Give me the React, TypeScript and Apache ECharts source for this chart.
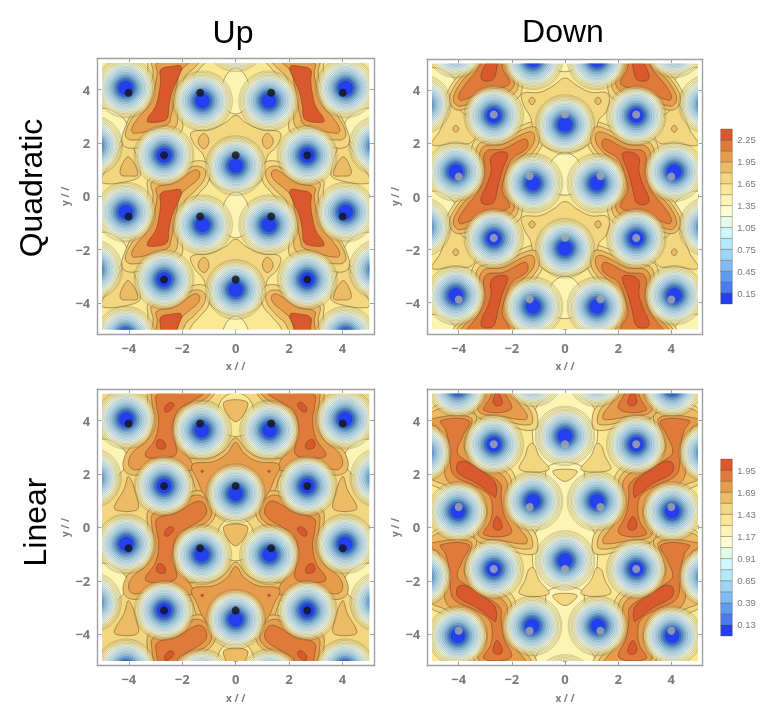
import React, { useEffect, useRef } from "react";
import * as echarts from "echarts";

type Pt = [number, number];
type Shape = { band: number; pts: Pt[] };

const bandColors = ["#2340ef","#4a7cf0","#5f9cf0","#80bcf4","#9cd6fa","#b2e9fb","#cdf8fd","#e3fbe8","#fdfdd5","#fdf4b3","#fae895","#f3d680","#ecbb65","#e79c4c","#df7a3a","#d9582c"];
const ringRadii = [1.12,1.07,1.01,0.96,0.91,0.86,0.81,0.76,0.71,0.65,0.59,0.53,0.47,0.41,0.35,0.27];
const ringFills = ["rgba(253,244,179,0.14)","rgba(253,246,185,0.36)","rgba(253,248,195,0.62)","rgba(252,250,205,0.82)","rgba(248,250,218,0.93)","#f1f8e2","#e6f4e8","#d9eeec","#cce5ec","#bbdbe8","#a9d0e2","#93bfdc","#78aad4","#5a8fc8","#3f6cc4","#2340ef"];

const quadLevels = [0,0.15,0.3,0.45,0.6,0.75,0.9,1.05,1.2,1.35,1.5,1.65,1.8,1.95,2.1,2.25,2.4];
const quadLabels = [0.15,0.45,0.75,1.05,1.35,1.65,1.95,2.25];
const linLevels = [0,0.13,0.26,0.39,0.52,0.65,0.78,0.91,1.04,1.17,1.3,1.43,1.56,1.69,1.82,1.95,2.08];
const linLabels = [0.13,0.39,0.65,0.91,1.17,1.43,1.69,1.95];
const majorTicks = [-4,-2,0,2,4];
const minorTicks = [-5,-4.5,-3.5,-3,-2.5,-1.5,-1,-0.5,0.5,1,1.5,2.5,3,3.5,4.5,5];

// ---- Up / Quadratic
const uqWellsSide: Pt[] = [[-4.12,4.07],[-1.24,3.58],[-2.68,1.54],[-4.12,-0.59],[-1.24,-1.07],[-2.68,-3.12],[-4.12,-5.25],[-5.36,1.9],[-5.36,-2.75]];
const uqWellsCenter: Pt[] = [[0,1.15],[0,-3.5],[0,5.8]];
const uqDotsSide: Pt[] = [[-4.01,3.89],[-1.33,3.89],[-2.68,1.54],[-4.01,-0.76],[-1.33,-0.76],[-2.68,-3.12]];
const uqDotsCenter: Pt[] = [[0,1.54],[0,-3.12]];
const uqOffsets = [4.65,0,-4.65];
const uqSide: Shape[] = [
  { band: 9, pts: [[-5.06,-1.41],[-4.44,-1.53],[-4.06,-2.04],[-4.38,-2.67],[-5.06,-2.79]] },
  { band: 11, pts: [[-4.06,-2.54],[-3.56,-3.79],[-3.88,-4.05],[-4.94,-4.17],[-5,-3.92],[-4.56,-3.29]] },
  { band: 11, pts: [[-3.25,0.63],[-2.31,0.79],[-1.63,1.29],[-1.06,1.23],[-1,0.6],[-1.38,0.1],[-1.69,-0.28],[-1.88,-0.9],[-2,-1.66],[-2,-2.16],[-2.25,-2.35],[-2.81,-2.6],[-3.88,-2.85],[-4.25,-2.66],[-4.13,-2.04],[-3.69,-1.16],[-3.44,-0.53],[-3.29,0.1]] },
  { band: 12, pts: [[-3.13,0.54],[-2.31,0.67],[-1.63,1.11],[-1.19,1.04],[-1.16,0.67],[-1.56,0.16],[-1.88,-0.15],[-2.06,-0.78],[-2.16,-1.53],[-2.25,-2.04],[-2.81,-2.35],[-3.88,-2.54],[-4.13,-2.35],[-3.88,-1.72],[-3.5,-1.22],[-3.25,-0.65],[-3.09,-0.03]] },
  { band: 12, pts: [[-1.19,-2.29],[-1,-2.54],[-1.13,-2.85],[-1.31,-2.79],[-1.4,-2.54]] },
  { band: 12, pts: [[-4,-3.17],[-3.66,-3.83],[-4,-3.89],[-4.31,-3.83],[-4.25,-3.45]] },
  { band: 13, pts: [[-2.96,0.33],[-2.31,0.5],[-1.56,0.98],[-1.36,0.93],[-1.39,0.67],[-1.75,0.35],[-2.06,0.04],[-2.21,-0.53],[-2.34,-1.28],[-2.44,-1.72],[-2.5,-1.91],[-2.94,-2.1],[-3.79,-2.29],[-3.9,-2.14],[-3.66,-1.72],[-3.29,-1.28],[-3.06,-0.65],[-2.94,-0.03]] },
  { band: 15, pts: [[-2.81,0.1],[-2.44,0.22],[-2.04,0.22],[-2.16,-0.22],[-2.38,-0.72],[-2.5,-1.28],[-2.56,-1.72],[-2.81,-1.85],[-3.29,-1.86],[-3.29,-1.72],[-3,-1.28],[-2.86,-0.72],[-2.81,-0.28]] },
];
const uqCenter: Shape[] = [
  { band: 9, pts: [[0,0.16],[0.44,-0.28],[0.5,-1.16],[0,-1.56],[-0.5,-1.16],[-0.44,-0.28]] },
  { band: 8, pts: [[0,-0.4],[0.2,-0.78],[0,-1.09],[-0.2,-0.78]] },
  { band: 11, pts: [[-1.66,-2.26],[-0.94,-2.14],[-0.375,-1.88],[0,-1.61],[0.375,-1.88],[0.94,-2.14],[1.66,-2.26],[1.55,-2.76],[1.19,-3.14],[1.06,-3.89],[0.44,-4.4],[-0.44,-4.4],[-1.06,-3.89],[-1.19,-3.14],[-1.55,-2.7]] },
];

// ---- Down / Quadratic
const dqWellsSide: Pt[] = [[-4.11,0.94],[-1.2,0.5],[-2.68,3.05],[-2.68,-1.58],[-4.11,-3.72],[-1.2,-4.15],[-1.2,5.15],[-4.11,5.6],[-5.4,3.47],[-5.4,-1.15]];
const dqWellsCenter: Pt[] = [[0,2.71],[0,-1.95]];
const dqDotsSide: Pt[] = [[-4,0.75],[-1.33,0.77],[-2.68,3.09],[-2.68,-1.56],[-4,-3.88],[-1.33,-3.87]];
const dqDotsCenter: Pt[] = [[0,3.09],[0,-1.56]];
const dqOffsets = [4.65,0,-4.65];
const dqSide: Shape[] = [
  { band: 9, pts: [[-5.06,0.14],[-4.44,0.02],[-4.06,-0.49],[-4.38,-1.12],[-5.06,-1.24]] },
  { band: 11, pts: [[-5,1.95],[-4.2,2],[-3.5,2.05],[-3.35,2.7],[-3.9,3.2],[-4.2,3.55],[-4.5,3],[-4.7,2.5]] },
  { band: 11, pts: [[-3.4,2.1],[-2.3,2.3],[-1.7,2.65],[-1,2.78],[-0.82,2.1],[-1.1,1.55],[-1.5,1.1],[-1.75,0.75],[-1.85,0.25],[-1.6,-0.45],[-1.85,-1],[-2.8,-1.15],[-4.05,-1.6],[-4.5,-1.1],[-4.25,-0.4],[-3.75,0.2],[-3.5,0.85]] },
  { band: 12, pts: [[-3.25,1.97],[-2.3,2.12],[-1.65,2.5],[-1.1,2.6],[-0.97,2.1],[-1.25,1.6],[-1.65,1.2],[-1.9,0.8],[-2,0.25],[-1.75,-0.4],[-2,-0.85],[-2.85,-1],[-4,-1.4],[-4.35,-1.05],[-4.1,-0.4],[-3.6,0.2],[-3.35,0.85]] },
  { band: 12, pts: [[-1.24,3.74],[-1.12,3.6],[-1.24,3.46],[-1.36,3.6]] },
  { band: 12, pts: [[-4.11,2.68],[-4,2.55],[-4.11,2.42],[-4.22,2.55]] },
  { band: 13, pts: [[-3.12,1.83],[-2.3,1.98],[-1.6,2.35],[-1.22,2.42],[-1.15,2.1],[-1.4,1.7],[-1.8,1.35],[-2.05,0.85],[-2.15,0.25],[-1.9,-0.35],[-2.15,-0.72],[-2.9,-0.85],[-3.95,-1.25],[-4.2,-1],[-3.95,-0.4],[-3.45,0.2],[-3.22,0.85]] },
  { band: 14, pts: [[-2.99,1.67],[-2.3,1.8],[-1.55,2.17],[-1.4,2.09],[-1.45,1.8],[-1.99,1.42],[-2.24,0.85],[-2.36,0.23],[-2.08,-0.35],[-2.3,-0.53],[-2.93,-0.65],[-3.9,-1.03],[-4.01,-0.88],[-3.74,-0.41],[-3.24,0.23],[-3.05,0.85]] },
  { band: 15, pts: [[-2.8,1.42],[-2.61,1.63],[-2.24,1.67],[-2.15,1.55],[-2.36,0.98],[-2.53,0.34],[-2.65,-0.16],[-2.8,-0.29],[-3.11,-0.26],[-3.15,-0.04],[-2.93,0.46],[-2.78,0.98]] },
];
const dqCenter: Shape[] = [
  { band: 9, pts: [[0,1.65],[0.55,1.25],[0.55,0.35],[0,0.05],[-0.55,0.35],[-0.55,1.25]] },
  { band: 8, pts: [[0,0.95],[0.3,0.75],[0,0.35],[-0.3,0.75]] },
  { band: 11, pts: [[-1.61,3.87],[-0.93,3.93],[-0.43,4.18],[0,4.46],[0.45,4.18],[0.95,3.93],[1.61,3.87],[1.58,3.24],[1.26,2.86],[1.14,2.24],[0.45,1.73],[-0.45,1.73],[-1.11,2.24],[-1.3,2.99],[-1.55,3.43]] },
];

// ---- Up / Linear
const ulWellsSide: Pt[] = [[-4.1,4.05],[-1.27,3.64],[-2.68,1.55],[-4.1,-0.62],[-1.27,-1.02],[-2.68,-3.11],[-4.1,-5.3],[-1.27,-5.67],[-5.4,1.85],[-5.4,-2.8]];
const ulWellsCenter: Pt[] = [[0,1.26],[0,-3.44]];
const ulDotsSide: Pt[] = [[-4.01,3.89],[-1.33,3.89],[-2.68,1.55],[-4.01,-0.78],[-1.33,-0.78],[-2.68,-3.11]];
const ulDotsCenter: Pt[] = [[0,1.55],[0,-3.11]];
const ulOffsets = [4.65,0,-4.65];
const ulSide: Shape[] = [
  { band: 9, pts: [[-5.06,-1.41],[-4.44,-1.53],[-4.06,-2.04],[-4.38,-2.67],[-5.06,-2.79]] },
  { band: 12, pts: [[-4,-2.75],[-3.63,-3.81],[-3.75,-4.02],[-4.44,-4.02],[-4.54,-3.87],[-4.19,-3.25]] },
  { band: 12, pts: [[-3.22,0.68],[-2.25,0.9],[-1.6,1.35],[-0.95,1.2],[-0.78,0.4],[-1.5,-0.25],[-1.85,-0.5],[-2.05,-0.87],[-1.9,-1.45],[-1.7,-1.85],[-1.45,-2.15],[-1.45,-2.7],[-2,-2.7],[-2.9,-2.5],[-3.8,-2.7],[-4.2,-2.45],[-4.05,-1.8],[-3.5,-1.3],[-3.25,-0.6],[-3.3,0]] },
  { band: 13, pts: [[-3.09,0.51],[-2.25,0.73],[-1.56,1.2],[-1.06,1.01],[-0.94,0.38],[-1.63,-0.12],[-2,-0.37],[-2.19,-0.87],[-2.06,-1.5],[-1.88,-1.87],[-1.63,-2.25],[-1.63,-2.5],[-2.06,-2.5],[-2.94,-2.31],[-3.75,-2.5],[-4,-2.31],[-3.88,-1.87],[-3.31,-1.37],[-3.06,-0.62],[-3.13,0]] },
  { band: 14, pts: [[-2.94,0.32],[-2.19,0.57],[-1.44,0.98],[-1.16,0.86],[-1.13,0.44],[-1.75,0],[-2.16,-0.27],[-2.34,-0.87],[-2.25,-1.5],[-2.25,-1.93],[-2.81,-2.06],[-3.38,-1.96],[-3,-1.31],[-2.88,-0.62],[-2.96,-0.12]] },
  { band: 15, pts: [[-2.44,0.03],[-2.31,-0.06],[-2.5,-0.31],[-2.65,-0.31],[-2.63,-0.12]] },
  { band: 15, pts: [[-2.9,-1.37],[-2.69,-1.43],[-2.63,-1.68],[-2.81,-1.72],[-2.96,-1.62]] },
  { band: 15, pts: [[-1.25,-2.5],[-1.2,-2.55],[-1.25,-2.6],[-1.3,-2.55]] },
];
const ulCenter: Shape[] = [
  { band: 10, pts: [[0,0.4],[0.6,0],[0.6,-0.9],[0,-1.25],[-0.6,-0.9],[-0.6,0]] },
  { band: 12, pts: [[-1.8,-2.15],[-0.9,-2.03],[-0.4,-1.75],[0,-1.3],[0.4,-1.75],[0.9,-2.03],[1.8,-2.15],[1.6,-2.9],[1.3,-3.6],[0.5,-4.3],[-0.5,-4.3],[-1.3,-3.6],[-1.6,-2.9]] },
  { band: 12, pts: [[-0.45,0.02],[0.45,0.02],[0,-0.7]] },
  { band: 13, pts: [[-1.63,-2.31],[-0.81,-2.18],[-0.31,-1.87],[0,-1.47],[0.31,-1.87],[0.81,-2.18],[1.63,-2.31],[1.44,-2.87],[1.13,-3.5],[0.44,-4.12],[-0.44,-4.12],[-1.13,-3.5],[-1.44,-2.87]] },
];

// ---- Down / Linear
const dlWellsSide: Pt[] = [[-2.68,3.11],[-1.2,0.98],[-4.03,0.6],[-2.68,-1.56],[-1.24,-3.69],[-4.03,-4.06],[-4.03,5.25],[-1.2,5.63],[-5.4,2.8],[-5.4,-1.85]];
const dlWellsCenter: Pt[] = [[0,3.42],[0,-1.24],[0,-5.88]];
const dlDotsSide: Pt[] = [[-2.68,3.11],[-4,0.76],[-1.33,0.76],[-2.68,-1.56],[-4,-3.87],[-1.33,-3.87]];
const dlDotsCenter: Pt[] = [[0,3.11],[0,-1.56]];
const dlOffsets = [4.65,0,-4.65];
const dlSide: Shape[] = [
  { band: 11, pts: [[-1.7,2.16],[-0.61,2.16],[-0.99,2.7],[-1.18,3.13],[-1.36,3.07],[-1.49,2.7]] },
  { band: 11, pts: [[-5.05,4.4],[-3.25,4.4],[-3.35,3.4],[-3.42,2.95],[-3.2,2.82],[-2.5,2.45],[-1.95,2.05],[-1.8,1.3],[-1.75,0.6],[-1.38,0.1],[-1.05,-0.4],[-1.15,-1],[-2.4,-0.8],[-3.35,-0.7],[-3.6,-0.15],[-3.3,0.38],[-3.3,0.69],[-3.45,0.85],[-4,1.1],[-4.7,1.45],[-5.05,1.7]] },
  { band: 12, pts: [[-5.05,4.25],[-3.4,4.25],[-3.52,3.4],[-3.6,2.95],[-3.35,2.72],[-2.65,2.32],[-2.1,1.95],[-1.98,1.3],[-1.92,0.6],[-1.55,0.05],[-1.25,-0.4],[-1.3,-0.8],[-2.4,-0.65],[-3.25,-0.55],[-3.45,-0.15],[-3.15,0.38],[-3.12,0.69],[-3.3,0.95],[-3.85,1.25],[-4.55,1.6],[-5.05,1.9]] },
  { band: 13, pts: [[-4.99,4.07],[-3.55,4.11],[-3.7,3.39],[-3.78,2.95],[-3.49,2.61],[-2.74,2.2],[-2.24,1.82],[-2.15,1.26],[-2.08,0.57],[-1.74,0],[-1.43,-0.43],[-1.49,-0.62],[-2.43,-0.49],[-3.15,-0.39],[-3.28,-0.12],[-2.99,0.38],[-2.96,0.69],[-3.18,1.07],[-3.74,1.38],[-4.43,1.76],[-4.55,2.51],[-4.58,3.13],[-4.8,3.76],[-4.96,3.82]] },
  { band: 14, pts: [[-4.68,3.99],[-3.61,3.99],[-3.86,3.39],[-4.05,2.82],[-3.74,2.51],[-2.93,2.01],[-2.43,1.63],[-2.4,1.13],[-2.3,0.51],[-2.03,-0.22],[-3.05,-0.27],[-2.8,0.26],[-2.74,0.76],[-2.86,1.2],[-3.43,1.57],[-4.18,1.95],[-4.33,2.51],[-4.36,3.07],[-4.49,3.64]] },
  { band: 15, pts: [[-3.99,2.45],[-3.68,2.45],[-2.93,1.95],[-2.61,1.63],[-2.61,1.13],[-2.74,1.2],[-3.3,1.63],[-3.99,2.01],[-4.08,2.26]] },
  { band: 15, pts: [[-2.55,0.41],[-2.36,0.07],[-2.43,-0.09],[-2.65,-0.06],[-2.7,0.13]] },
];
const dlCenter: Shape[] = [
  { band: 9, pts: [[-0.6,2.3],[0.6,2.3],[0.7,1.5],[0.6,0.4],[1.1,-0.2],[1.2,-1.5],[0.9,-2.4],[-0.9,-2.4],[-1.2,-1.5],[-1.1,-0.2],[-0.6,0.4],[-0.7,1.5]] },
  { band: 8, pts: [[0,1.35],[0.3,1],[0,0.55],[-0.3,1]] },
  { band: 11, pts: [[-0.45,2.11],[0.45,2.11],[0,1.72]] },
];

const panels = [
  { grid: { left: 97.3, top: 58.3, width: 276.7, height: 276 }, base: 10, side: uqSide, center: uqCenter, offsets: uqOffsets, wellsSide: uqWellsSide, wellsCenter: uqWellsCenter, dotsSide: uqDotsSide, dotsCenter: uqDotsCenter, dot: "#141414" },
  { grid: { left: 427.3, top: 59, width: 275.4, height: 275 }, base: 10, side: dqSide, center: dqCenter, offsets: dqOffsets, wellsSide: dqWellsSide, wellsCenter: dqWellsCenter, dotsSide: dqDotsSide, dotsCenter: dqDotsCenter, dot: "#a9a9a9" },
  { grid: { left: 97.3, top: 389, width: 276.7, height: 276.7 }, base: 11, side: ulSide, center: ulCenter, offsets: ulOffsets, wellsSide: ulWellsSide, wellsCenter: ulWellsCenter, dotsSide: ulDotsSide, dotsCenter: ulDotsCenter, dot: "#141414" },
  { grid: { left: 427.3, top: 389, width: 275.4, height: 276.7 }, base: 10, side: dlSide, center: dlCenter, offsets: dlOffsets, wellsSide: dlWellsSide, wellsCenter: dlWellsCenter, dotsSide: dlDotsSide, dotsCenter: dlDotsCenter, dot: "#a9a9a9" },
];

const LIM = 5.18;
const GRAY = "#a0a0a0";
const TXT = "#7b7b7b";
const fmt = (v: number) => String(v).replace("-", "\u2212");

function buildItems(p: any) {
  const polys: Shape[] = [];
  for (const dy of p.offsets) {
    for (const s of p.side) {
      const moved: Pt[] = s.pts.map(([x, y]: Pt) => [x, y + dy] as Pt);
      polys.push({ band: s.band, pts: moved });
      polys.push({ band: s.band, pts: moved.map(([x, y]) => [-x, y] as Pt) });
    }
    for (const s of p.center) polys.push({ band: s.band, pts: s.pts.map(([x, y]: Pt) => [x, y + dy] as Pt) });
  }
  polys.sort((a, b) => a.band - b.band);
  const wells: Pt[] = [...p.wellsSide, ...p.wellsSide.map(([x, y]: Pt) => [-x, y] as Pt), ...p.wellsCenter];
  return [{ kind: "base", band: p.base }, ...polys.map((s) => ({ kind: "poly", ...s })), ...wells.map((w) => ({ kind: "well", at: w }))];
}

function fieldSeries(p: any, idx: number) {
  const items = buildItems(p);
  return {
    type: "custom",
    xAxisIndex: idx * 4,
    yAxisIndex: idx * 4,
    coordinateSystem: "cartesian2d",
    silent: true,
    z: 2,
    data: items.map((_, i) => [i]),
    renderItem: (params: any, api: any) => {
      const it: any = items[params.dataIndex];
      const tl = api.coord([-5, 5]);
      const br = api.coord([5, -5]);
      const clip = { type: "rect", shape: { x: tl[0], y: tl[1], width: br[0] - tl[0], height: br[1] - tl[1] } };
      if (it.kind === "base") {
        return { type: "rect", shape: clip.shape, style: { fill: bandColors[it.band] } };
      }
      if (it.kind === "poly") {
        return {
          type: "polygon",
          clipPath: clip,
          shape: { points: it.pts.map((q: Pt) => api.coord(q)), smooth: 0.4 },
          style: { fill: bandColors[it.band], stroke: "rgba(92,66,28,0.62)", lineWidth: 0.8 },
        };
      }
      const c = api.coord(it.at);
      const unit = api.size([1, 1])[0];
      return {
        type: "group",
        clipPath: clip,
        children: ringRadii.map((r, k) => ({
          type: "circle",
          shape: { cx: c[0], cy: c[1], r: r * unit },
          style: {
            fill: ringFills[k],
            stroke: k < 5 ? "rgba(90,86,50,0.5)" : "rgba(50,75,110,0.38)",
            lineWidth: 0.55,
          },
        })),
      };
    },
  };
}

function axesFor(dim: "x" | "y", grid: number) {
  const name = dim === "x" ? "x / /" : "y / /";
  const near = dim === "x" ? "bottom" : "left";
  const far = dim === "x" ? "top" : "right";
  const common = { type: "value", gridIndex: grid, min: -LIM, max: LIM, splitLine: { show: false } };
  const line = { onZero: false, lineStyle: { color: GRAY, width: 1.4 } };
  const tick = (values: number[], length: number) => ({ inside: true, length, customValues: values, lineStyle: { color: GRAY, width: 1 } });
  return [
    {
      ...common,
      position: near,
      name,
      nameLocation: "middle",
      nameGap: dim === "x" ? 27 : 27,
      nameTextStyle: { color: TXT, fontFamily: "Open Sans", fontWeight: "bold", fontSize: 10 },
      axisLine: line,
      axisTick: tick(majorTicks, 4),
      axisLabel: { customValues: majorTicks, formatter: fmt, color: TXT, fontFamily: "Open Sans", fontWeight: "bold", fontSize: 13, margin: 7 },
    },
    { ...common, position: near, axisLine: { show: false }, axisTick: tick(minorTicks, 2), axisLabel: { show: false } },
    { ...common, position: far, axisLine: line, axisTick: tick(majorTicks, 4), axisLabel: { show: false } },
    { ...common, position: far, axisLine: { show: false }, axisTick: tick(minorTicks, 2), axisLabel: { show: false } },
  ];
}

function colorbar(gridIndex: number, axisIndex: number, levels: number[], labels: number[]) {
  const yAxis = {
    type: "value",
    gridIndex,
    position: "right",
    min: levels[0],
    max: levels[levels.length - 1],
    splitLine: { show: false },
    axisLine: { show: false },
    axisTick: { show: true, customValues: labels, length: 3, lineStyle: { color: GRAY, width: 0.8 } },
    axisLabel: { customValues: labels, formatter: (v: number) => v.toFixed(2), color: TXT, fontFamily: "Liberation Sans", fontSize: 9.5, margin: 5 },
  };
  const xAxis = { type: "value", gridIndex, min: 0, max: 1, show: false };
  const series = {
    type: "custom",
    xAxisIndex: axisIndex,
    yAxisIndex: axisIndex,
    silent: true,
    data: bandColors.map((_, i) => [levels[i], levels[i + 1]]),
    renderItem: (params: any, api: any) => {
      const a = api.coord([0, api.value(1)]);
      const b = api.coord([1, api.value(0)]);
      return {
        type: "rect",
        shape: { x: a[0], y: a[1], width: b[0] - a[0], height: b[1] - a[1] },
        style: { fill: bandColors[params.dataIndex], stroke: "rgba(90,80,60,0.5)", lineWidth: 0.7 },
      };
    },
  };
  return { xAxis, yAxis, series };
}

export default function App() {
  const ref = useRef<HTMLDivElement>(null);
  useEffect(() => {
    document.body.style.margin = "0";
    const chart = echarts.init(ref.current!, undefined, { renderer: "svg" });
    const grids: any[] = panels.map((p) => p.grid);
    grids.push({ left: 720.7, top: 129, width: 11.6, height: 175 }, { left: 720.7, top: 459, width: 11.6, height: 177 });
    const xAxes: any[] = [];
    const yAxes: any[] = [];
    panels.forEach((_, i) => {
      xAxes.push(...axesFor("x", i));
      yAxes.push(...axesFor("y", i));
    });
    const cb1 = colorbar(4, 16, quadLevels, quadLabels);
    const cb2 = colorbar(5, 17, linLevels, linLabels);
    xAxes.push(cb1.xAxis, cb2.xAxis);
    yAxes.push(cb1.yAxis, cb2.yAxis);
    const dotSeries = panels.map((p, i) => ({
      type: "scatter",
      xAxisIndex: i * 4,
      yAxisIndex: i * 4,
      z: 5,
      symbolSize: 8,
      silent: true,
      itemStyle: { color: p.dot },
      data: [...p.dotsSide, ...p.dotsSide.map(([x, y]: Pt) => [-x, y]), ...p.dotsCenter],
    }));
    const titleStyle = { fill: "#000", fontFamily: "Liberation Sans", fontSize: 32, textAlign: "center", textVerticalAlign: "middle" };
    chart.setOption({
      animation: false,
      backgroundColor: "#fff",
      grid: grids,
      xAxis: xAxes,
      yAxis: yAxes,
      series: [...panels.map(fieldSeries), ...dotSeries, cb1.series, cb2.series],
      graphic: [
        { type: "text", x: 233, y: 32, style: { text: "Up", ...titleStyle } },
        { type: "text", x: 563, y: 31, style: { text: "Down", ...titleStyle } },
        { type: "text", x: 31, y: 188, rotation: Math.PI / 2, style: { text: "Quadratic", ...titleStyle } },
        { type: "text", x: 35, y: 522, rotation: Math.PI / 2, style: { text: "Linear", ...titleStyle } },
      ],
    });
    return () => chart.dispose();
  }, []);
  return <div ref={ref} style={{ width: 763, height: 707, filter: "blur(0.4px)" }} />;
}
